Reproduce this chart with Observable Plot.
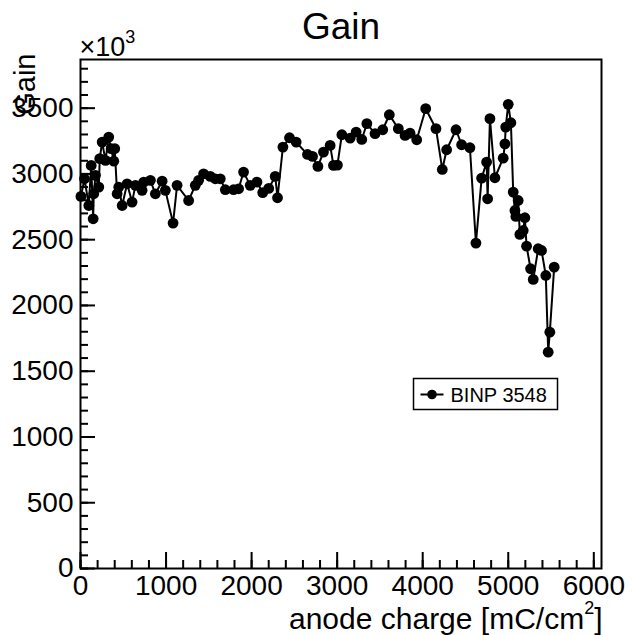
<!DOCTYPE html>
<html>
<head>
<meta charset="utf-8">
<script src="https://cdn.jsdelivr.net/npm/d3@7"></script>
<script src="https://cdn.jsdelivr.net/npm/@observablehq/plot@0.6"></script>
<style>
  html, body { margin: 0; padding: 0; background: white; }
</style>
</head>
<body>
<div id="chart"></div>
<script>
// anode charge [mC/cm^2]
const charge = [5, 47, 97, 125, 148, 155, 175, 214, 225, 253, 292, 330, 358, 389, 400, 428, 447, 487, 545, 603,
  642, 720, 739, 817, 875, 954, 992, 1082, 1129, 1264, 1342, 1381, 1439, 1517, 1576, 1634, 1693, 1789, 1848, 1906,
  1984, 2063, 2130, 2200, 2276, 2303, 2366, 2443, 2521, 2653, 2712, 2775, 2840, 2918, 2957, 3003, 3055, 3152, 3222, 3288,
  3347, 3443, 3533, 3610, 3715, 3794, 3852, 3930, 4035, 4155, 4229, 4280, 4389, 4455, 4552, 4622, 4689, 4747, 4759, 4786,
  4844, 4941, 4961, 4970, 5000, 5031, 5058, 5078, 5089, 5116, 5136, 5175, 5194, 5214, 5261, 5292, 5350, 5389, 5439, 5467,
  5486, 5537];
// gain (x10^3)
const gain = [2829, 2963, 2760, 3065, 2659, 2849, 2989, 2900, 3116, 3242, 3103, 3280, 3192, 3097, 3192, 2849, 2900, 2760, 2925, 2786,
  2913, 2875, 2938, 2951, 2849, 2945, 2875, 2626, 2913, 2798, 2913, 2951, 3001, 2981, 2963, 2963, 2880, 2880, 2887, 3014,
  2913, 2938, 2858, 2890, 2981, 2819, 3204, 3275, 3242, 3148, 3133, 3057, 3166, 3217, 3065, 3067, 3298, 3272, 3318, 3262,
  3382, 3306, 3336, 3450, 3344, 3293, 3310, 3260, 3496, 3344, 3034, 3184, 3336, 3222, 3199, 2474, 2968, 3090, 2811, 3420,
  2971, 3120, 3229, 3356, 3529, 3389, 2862, 2722, 2677, 2798, 2540, 2570, 2667, 2451, 2279, 2198, 2431, 2418, 2228, 1645,
  1797, 2291];

const seriesName = "BINP 3548";
const titleText = "Gain";
const xTitleMain = "anode charge [mC/cm";
const xTitleSup = "2";
const xTitleEnd = "]";
const yTitle = "Gain";
const yExpMain = "×10";
const yExpSup = "3";

const xMajor = [0, 1000, 2000, 3000, 4000, 5000, 6000];
const xMinor = d3.range(0, 6001, 200);
const yMajor = [0, 500, 1000, 1500, 2000, 2500, 3000, 3500];
const yMinor = d3.range(0, 3801, 100);

const data = charge.map((c, i) => ({charge: c, gain: gain[i]}));

const W = 632, H = 635, mL = 80, mR = 31, mT = 59, mB = 67;
const fw = W - mL - mR, fh = H - mT - mB;
const font = "Liberation Sans, Arial, Helvetica, sans-serif";

const chart = Plot.plot({
  width: W, height: H,
  marginLeft: mL, marginRight: mR, marginTop: mT, marginBottom: mB,
  style: {fontFamily: font, background: "white", color: "black"},
  x: {domain: [0, 6090]},
  y: {domain: [0, 3870]},
  marks: [
    Plot.frame({stroke: "black", strokeWidth: 2}),
    // inward ticks
    Plot.ruleX(xMinor, {x: d => d, insetTop: fh - 8, stroke: "black", strokeWidth: 2}),
    Plot.ruleX(xMajor, {x: d => d, insetTop: fh - 16, stroke: "black", strokeWidth: 2}),
    Plot.ruleY(yMinor, {y: d => d, insetRight: fw - 8, stroke: "black", strokeWidth: 2}),
    Plot.ruleY(yMajor, {y: d => d, insetRight: fw - 15, stroke: "black", strokeWidth: 2}),
    Plot.axisX({ticks: xMajor, tickSize: 0, tickPadding: 7, fontSize: 28, tickFormat: d => String(d), label: null}),
    Plot.axisY({ticks: yMajor, tickSize: 0, tickPadding: 7, fontSize: 28, tickFormat: d => String(d), label: null}),
    // data
    Plot.line(data, {x: "charge", y: "gain", stroke: "black", strokeWidth: 2}),
    Plot.dot(data, {x: "charge", y: "gain", r: 5.4, fill: "black", stroke: "none"}),
    // legend
    Plot.frame({insetLeft: 413 - mL, insetRight: W - mR - 557, insetTop: 378 - mT, insetBottom: H - mB - 409,
      fill: "white", stroke: "black", strokeWidth: 1.5}),
    Plot.frame({insetLeft: 420 - mL, insetRight: W - mR - 443, insetTop: 393 - mT, insetBottom: H - mB - 395,
      fill: "black", stroke: "none"}),
    Plot.dot([seriesName], {x: null, y: null, frameAnchor: "top-left", dx: 431.5 - mL, dy: 394 - mT, r: 4.8, fill: "black"}),
    Plot.text([seriesName], {text: d => d, x: null, y: null, frameAnchor: "top-left", dx: 450 - mL, dy: 401.5 - mT,
      textAnchor: "start", lineAnchor: "bottom", fontSize: 20, fill: "black"}),
    // titles
    Plot.text([titleText], {text: d => d, frameAnchor: "top", dy: 38 - mT, lineAnchor: "bottom", fontSize: 37, fill: "black"}),
    Plot.text([yExpMain], {text: d => d, frameAnchor: "top-left", dx: -1, dy: 55 - mT, textAnchor: "start", lineAnchor: "bottom", fontSize: 27, fill: "black", className: "yexp"}),
    Plot.text([xTitleMain], {text: d => d, frameAnchor: "bottom-right", dx: 1, dy: 628 - (H - mB), textAnchor: "end", lineAnchor: "bottom", fontSize: 30, fill: "black", className: "xtitle"}),
    Plot.text([yTitle], {text: d => d, frameAnchor: "top-left", rotate: -90, dx: 34 - mL, dy: 53 - mT, textAnchor: "end", lineAnchor: "bottom", fontSize: 29, fill: "black"})
  ]
});

// superscripts as tspans inside the same text elements
d3.select(chart).selectAll("g.yexp text").each(function () {
  d3.select(this).append("tspan").attr("dy", -13).attr("font-size", 18).text(yExpSup);
});
d3.select(chart).selectAll("g.xtitle text").each(function () {
  const t = d3.select(this);
  t.append("tspan").attr("dy", -15).attr("font-size", 18).text(xTitleSup);
  t.append("tspan").attr("dy", 15).attr("font-size", 30).text(xTitleEnd);
});

document.getElementById("chart").appendChild(chart);
</script>
</body>
</html>
